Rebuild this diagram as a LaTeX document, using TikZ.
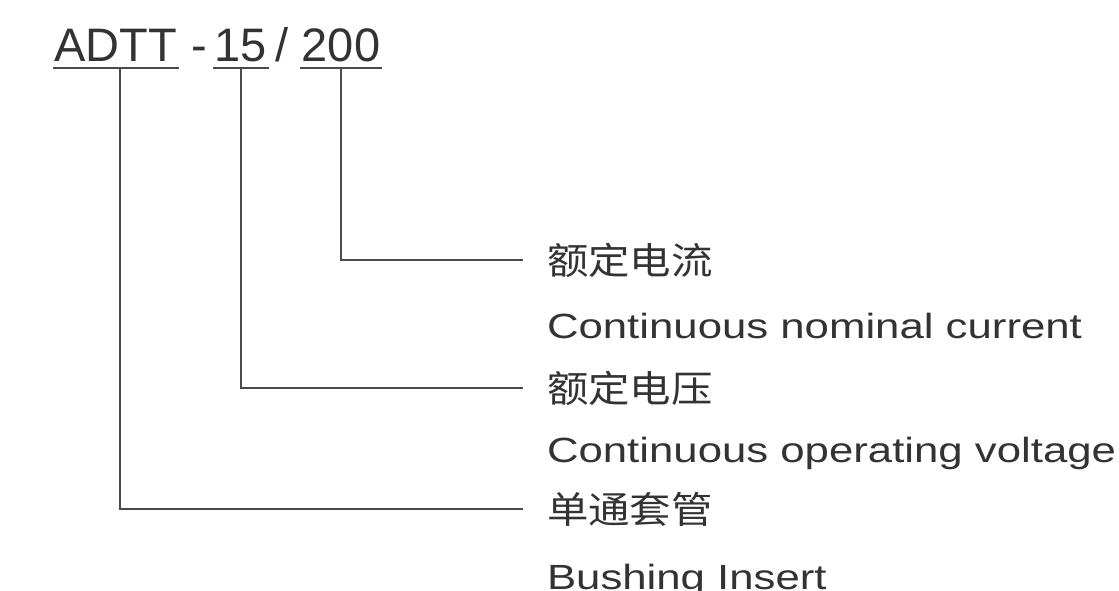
\documentclass[tikz,border=0pt]{standalone}
\usepackage{fontspec}
\setmainfont{Liberation Sans}
\newfontfamily\codefont{Liberation Sans}
\newfontfamily\labfont[FakeStretch=1.25]{Liberation Sans}
\newfontfamily\cjkfont[FakeStretch=1.12]{Noto Sans CJK SC}
\definecolor{ink}{HTML}{333333}
\definecolor{wirec}{HTML}{4A4A4A}
\tikzset{
  code/.style={font=\codefont\fontsize{47}{56}\selectfont, text=ink, anchor=base, inner xsep=1.5pt, inner ysep=6pt, outer sep=0pt},
  sep/.style={font=\codefont\fontsize{47}{56}\selectfont, text=ink, anchor=base, inner sep=0pt, outer sep=0pt},
  uline/.style={draw=wirec, line width=2pt},
  wire/.style={draw=wirec, line width=2pt, line join=miter, shorten >=24pt},
  cjk/.style={font=\cjkfont\fontsize{37}{44}\selectfont, text=ink, anchor=west, inner sep=0pt, outer sep=0pt},
  eng/.style={font=\labfont\fontsize{35}{42}\selectfont, text=ink, anchor=base west, inner sep=0pt, outer sep=0pt}
}
\begin{document}
\begin{tikzpicture}[x=1pt,y=-1pt]
\useasboundingbox[fill=white] (0,0) rectangle (1119,591);
% code
\node[code] (a) at (116,62) {ADTT};
\node[sep] (dash) at (199,62) {-};
\node[code] (b) at (241,62) {15};
\node[sep] (slash) at (282,62) {/};
\node[code] (c) at (341,62) {200};
\draw[uline] (a.south west) -- (a.south east);
\draw[uline] (b.south west) -- (b.south east);
\draw[uline] (c.south west) -- (c.south east);
% labels
\node[cjk] (l1) at (547,260) {额定电流};
\node[eng] (e1) at (547,338) {Continuous nominal current};
\node[cjk] (l2) at (547,388) {额定电压};
\node[eng] (e2) at (547,462) {Continuous operating voltage};
\node[cjk] (l3) at (547,509) {单通套管};
\node[eng] (e3) at (547,589) {Bushing Insert};
% connectors
\draw[wire] (c.south) |- (l1.west);
\draw[wire] (b.south) |- (l2.west);
\draw[wire] ([xshift=4pt]a.south) |- (l3.west);
\end{tikzpicture}
\end{document}
